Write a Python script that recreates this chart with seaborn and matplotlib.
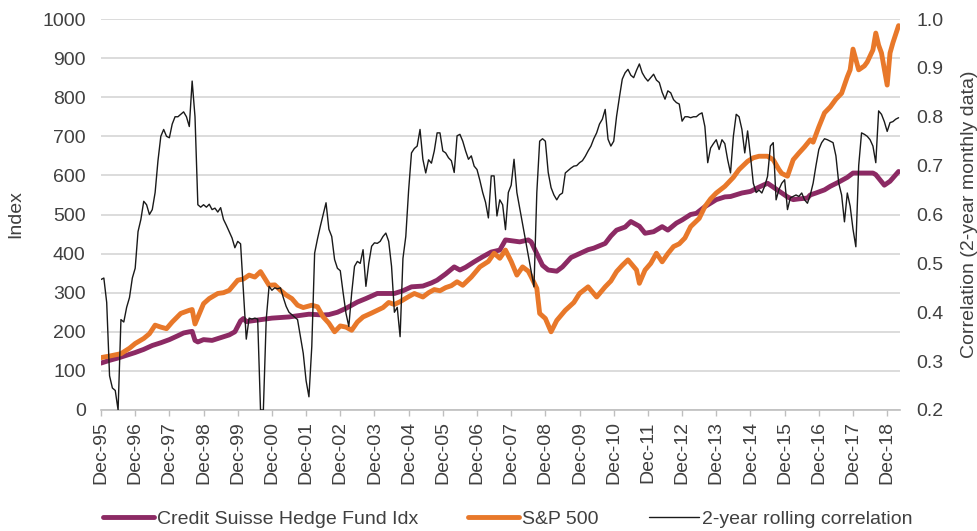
import numpy as np
import matplotlib
matplotlib.use("Agg")
import matplotlib.pyplot as plt
import matplotlib.ticker as mticker
from matplotlib.lines import Line2D
import pandas as pd
import seaborn as sns


PURPLE = "#8c2a64"
ORANGE = "#e8782a"
CORR_COLOR = "#1a1a1a"
TEXT = "#404040"
GRID = "#d9d9d9"
FONT_SIZE = 14

# month index: 0 = Dec-95, 12 = Dec-96, ... 280 = Apr-19
hf_month = [0, 3, 6, 9, 12, 15, 18, 21, 24, 27, 29, 31, 32, 33, 34, 36, 39, 42, 45, 47,
            49, 50, 51, 55, 60, 66, 70, 73, 78, 80, 83, 86, 90, 93, 97, 100, 103, 106, 109, 113,
            116, 118, 121, 124, 126, 128, 131, 134, 137, 140, 142, 144, 147, 150, 151, 153, 155, 157, 160, 162,
            165, 168, 171, 173, 177, 179, 181, 184, 186, 189, 191, 194, 197, 199, 202, 204, 207, 209, 212, 216,
            219, 221, 225, 228, 231, 234, 237, 239, 241, 243, 245, 248, 249, 251, 254, 256, 259, 262, 264, 268,
            271, 272, 275, 277, 280]
hf_value = [120, 127, 133, 140, 147, 155, 165, 172, 180, 190, 197, 200, 201, 178, 174, 180, 178, 185, 192, 200,
            228, 234, 226, 230, 235, 238, 242, 245, 243, 244, 250, 260, 276, 285, 298, 298, 298, 305, 315, 317,
            325, 332, 348, 366, 358, 365, 379, 392, 404, 409, 435, 433, 430, 435, 430, 400, 370, 358, 355, 366,
            390, 400, 410, 414, 426, 445, 460, 468, 482, 470, 452, 456, 469, 460, 478, 486, 500, 503, 520, 538,
            545, 546, 555, 559, 570, 580, 565, 555, 545, 538, 540, 542, 550, 555, 563, 572, 583, 595, 606, 606,
            606, 602, 575, 585, 610]

spx_month = [0, 3, 7, 10, 12, 15, 17, 19, 21, 23, 25, 28, 31, 32, 33, 36, 38, 41, 43, 45,
             48, 50, 52, 54, 56, 59, 61, 63, 65, 67, 69, 71, 72, 74, 76, 78, 80, 82, 84, 86,
             88, 90, 92, 95, 97, 99, 101, 103, 105, 108, 110, 113, 115, 117, 119, 121, 123, 125, 127, 130,
             133, 136, 138, 140, 142, 144, 146, 148, 150, 151, 153, 154, 156, 158, 160, 163, 166, 168, 171, 174,
             177, 179, 181, 183, 185, 188, 189, 191, 193, 195, 197, 199, 201, 203, 205, 207, 210, 212, 214, 216,
             219, 222, 224, 227, 229, 231, 234, 236, 238, 239, 241, 243, 245, 247, 249, 250, 252, 254, 256, 258,
             260, 262, 263, 264, 266, 268, 269, 271, 272, 273, 274, 276, 277, 278, 280]
spx_value = [134, 138, 144, 158, 170, 183, 195, 217, 212, 208, 225, 247, 255, 257, 220, 272, 285, 298, 300, 306,
             332, 335, 345, 340, 354, 319, 320, 306, 294, 285, 268, 262, 264, 268, 264, 238, 222, 200, 215, 212,
             204, 225, 238, 248, 255, 262, 275, 270, 277, 290, 298, 289, 300, 308, 305, 313, 318, 328, 319, 340,
             366, 380, 401, 388, 409, 380, 345, 366, 355, 341, 311, 247, 234, 200, 229, 255, 275, 298, 315, 289,
             315, 330, 354, 370, 384, 358, 324, 358, 375, 401, 379, 400, 418, 425, 440, 469, 490, 520, 540, 555,
             572, 595, 615, 636, 645, 649, 649, 640, 615, 605, 598, 640, 657, 673, 691, 685, 724, 760, 775, 795,
             810, 852, 870, 923, 870, 880, 890, 921, 964, 933, 913, 831, 913, 939, 983]

corr_month = [0, 1, 2, 3, 4, 5, 6, 7, 8, 9, 10, 11, 12, 13, 14, 15, 16, 17, 18, 19,
              20, 21, 22, 23, 24, 25, 26, 27, 28, 29, 30, 31, 32, 33, 34, 35, 36, 37, 38, 39,
              40, 41, 42, 43, 44, 45, 46, 47, 48, 49, 51, 52, 53, 54, 55, 56, 57, 58, 59, 60,
              61, 62, 63, 64, 65, 66, 67, 68, 69, 70, 71, 72, 73, 74, 75, 76, 77, 78, 79, 80,
              81, 82, 83, 84, 85, 86, 87, 88, 89, 90, 91, 92, 93, 94, 95, 96, 97, 98, 99, 100,
              101, 102, 103, 104, 105, 106, 107, 108, 109, 110, 111, 112, 113, 114, 115, 116, 117, 118, 119, 120,
              121, 122, 123, 124, 125, 126, 127, 128, 129, 130, 131, 132, 133, 134, 135, 136, 137, 138, 139, 140,
              141, 142, 143, 144, 145, 146, 152, 153, 154, 155, 156, 157, 158, 159, 160, 161, 162, 163, 164, 165,
              166, 167, 168, 169, 170, 171, 172, 173, 174, 175, 176, 177, 178, 179, 180, 181, 182, 183, 184, 185,
              186, 187, 188, 189, 190, 191, 192, 193, 194, 195, 196, 197, 198, 199, 200, 201, 202, 203, 204, 205,
              206, 207, 208, 209, 210, 211, 212, 213, 214, 215, 216, 217, 218, 219, 220, 221, 222, 223, 224, 225,
              226, 227, 228, 229, 230, 231, 232, 233, 234, 235, 236, 237, 238, 239, 240, 241, 242, 243, 244, 245,
              246, 247, 248, 249, 250, 251, 252, 253, 254, 255, 256, 257, 258, 259, 260, 261, 262, 263, 264, 265,
              266, 267, 268, 269, 270, 271, 272, 273, 274, 275, 276, 277, 278, 279, 280]
corr_value = [0.467, 0.47, 0.42, 0.27, 0.245, 0.24, 0.20, 0.385, 0.38, 0.41, 0.43, 0.47, 0.49, 0.565, 0.59, 0.627, 0.62, 0.60, 0.61, 0.645,
              0.71, 0.76, 0.774, 0.76, 0.757, 0.785, 0.80, 0.80, 0.805, 0.81, 0.80, 0.78, 0.873, 0.80, 0.62, 0.615, 0.62, 0.615, 0.621, 0.61,
              0.613, 0.605, 0.614, 0.59, 0.578, 0.565, 0.552, 0.532, 0.545, 0.54, 0.345, 0.388, 0.386, 0.388, 0.386, 0.20, 0.20, 0.385, 0.453, 0.445,
              0.45, 0.448, 0.45, 0.43, 0.412, 0.40, 0.395, 0.39, 0.385, 0.35, 0.316, 0.26, 0.227, 0.33, 0.521, 0.55, 0.576, 0.60, 0.624, 0.57,
              0.555, 0.508, 0.49, 0.485, 0.44, 0.398, 0.371, 0.439, 0.494, 0.504, 0.50, 0.528, 0.453, 0.50, 0.535, 0.542, 0.541, 0.545, 0.555, 0.562,
              0.545, 0.494, 0.40, 0.41, 0.35, 0.51, 0.555, 0.65, 0.726, 0.735, 0.74, 0.774, 0.713, 0.685, 0.712, 0.705, 0.73, 0.767, 0.767, 0.73,
              0.726, 0.716, 0.71, 0.686, 0.761, 0.764, 0.75, 0.73, 0.713, 0.72, 0.699, 0.692, 0.67, 0.645, 0.625, 0.593, 0.679, 0.679, 0.597, 0.63,
              0.62, 0.569, 0.645, 0.66, 0.713, 0.645, 0.452, 0.645, 0.75, 0.755, 0.75, 0.686, 0.655, 0.64, 0.63, 0.64, 0.644, 0.685, 0.69, 0.695,
              0.699, 0.70, 0.706, 0.71, 0.719, 0.73, 0.74, 0.755, 0.767, 0.785, 0.795, 0.815, 0.754, 0.74, 0.75, 0.801, 0.84, 0.877, 0.89, 0.897,
              0.885, 0.88, 0.895, 0.908, 0.89, 0.88, 0.873, 0.88, 0.887, 0.875, 0.87, 0.85, 0.836, 0.853, 0.849, 0.835, 0.829, 0.826, 0.791, 0.80,
              0.80, 0.798, 0.80, 0.80, 0.805, 0.808, 0.78, 0.706, 0.736, 0.745, 0.753, 0.733, 0.753, 0.745, 0.712, 0.685, 0.76, 0.805, 0.80, 0.774,
              0.726, 0.771, 0.72, 0.664, 0.645, 0.65, 0.644, 0.658, 0.678, 0.74, 0.747, 0.63, 0.651, 0.664, 0.671, 0.61, 0.634, 0.637, 0.64, 0.637,
              0.644, 0.63, 0.623, 0.64, 0.664, 0.70, 0.733, 0.747, 0.755, 0.753, 0.75, 0.747, 0.72, 0.664, 0.64, 0.585, 0.644, 0.617, 0.57, 0.534,
              0.70, 0.767, 0.764, 0.76, 0.753, 0.74, 0.706, 0.812, 0.805, 0.79, 0.77, 0.788, 0.79, 0.795, 0.798]

x_tick_month = [0, 12, 24, 36, 48, 60, 72, 84, 96, 108, 120, 132, 144, 156, 168, 180,
                192, 204, 216, 228, 240, 252, 264, 276]
x_tick_labels = ["Dec-95", "Dec-96", "Dec-97", "Dec-98", "Dec-99", "Dec-00", "Dec-01", "Dec-02",
                 "Dec-03", "Dec-04", "Dec-05", "Dec-06", "Dec-07", "Dec-08", "Dec-09", "Dec-10",
                 "Dec-11", "Dec-12", "Dec-13", "Dec-14", "Dec-15", "Dec-16", "Dec-17", "Dec-18"]

series_labels = ["Credit Suisse Hedge Fund Idx", "S&P 500", "2-year rolling correlation"]


hf = pd.DataFrame({"month": hf_month, "value": hf_value})
spx = pd.DataFrame({"month": spx_month, "value": spx_value})
corr = pd.DataFrame({"month": corr_month, "value": corr_value})

sns.set_style("white")
plt.rcParams["font.family"] = ["Liberation Sans", "DejaVu Sans"]

fig, ax = plt.subplots(figsize=(9.78, 5.31), dpi=100)
fig.subplots_adjust(left=101 / 978, right=900 / 978, bottom=1 - 410 / 531, top=1 - 19 / 531)
ax2 = ax.twinx()

sns.lineplot(data=hf, x="month", y="value", ax=ax, color=PURPLE, linewidth=3.5, legend=False)
sns.lineplot(data=spx, x="month", y="value", ax=ax, color=ORANGE, linewidth=3.5, legend=False)
sns.lineplot(data=corr, x="month", y="value", ax=ax2, color=CORR_COLOR, linewidth=1.0, legend=False)

ax.set_xlim(0, 280.5)
ax.set_ylim(0, 1000)
ax2.set_ylim(0.2, 1.0)

ax.set_yticks(range(0, 1001, 100))
ax2.set_yticks(np.arange(0.2, 1.01, 0.1))
ax2.yaxis.set_major_formatter(mticker.FormatStrFormatter("%.1f"))
ax.set_xticks(x_tick_month)
ax.set_xticklabels(x_tick_labels, rotation=90)

ax.grid(axis="y", color=GRID, linewidth=1.3)
ax.grid(axis="x", visible=False)
ax2.grid(False)
ax.set_axisbelow(True)

for side in ["top", "left", "right"]:
    ax.spines[side].set_visible(False)
ax.spines["bottom"].set_color("#bfbfbf")
ax.spines["bottom"].set_linewidth(1.2)
for side in ax2.spines:
    ax2.spines[side].set_visible(False)

ax.tick_params(axis="x", direction="out", length=4, width=1, color="#bfbfbf",
               labelsize=FONT_SIZE, labelcolor=TEXT, pad=4, bottom=True)
ax.tick_params(axis="y", length=0, labelsize=FONT_SIZE, labelcolor=TEXT, pad=11)
ax2.tick_params(axis="y", length=0, labelsize=FONT_SIZE, labelcolor=TEXT, pad=12)

ax.set_xlabel("")
ax.set_ylabel("Index", fontsize=FONT_SIZE, color=TEXT)
ax.yaxis.set_label_coords(-0.096, 0.5)
ax2.set_ylabel("Correlation (2-year monthly data)", fontsize=FONT_SIZE, color=TEXT, rotation=90)
ax2.yaxis.set_label_coords(1.076, 0.5)

handles = [Line2D([], [], color=PURPLE, linewidth=3.5),
           Line2D([], [], color=ORANGE, linewidth=3.5),
           Line2D([], [], color=CORR_COLOR, linewidth=1.0)]
fig.legend(handles, series_labels, loc="center", bbox_to_anchor=(508 / 978, 1 - 519 / 531),
           ncol=3, frameon=False, fontsize=FONT_SIZE, labelcolor=TEXT,
           handlelength=2.6, handletextpad=0.15, columnspacing=2.6)

fig.savefig("out.png", dpi=100)
